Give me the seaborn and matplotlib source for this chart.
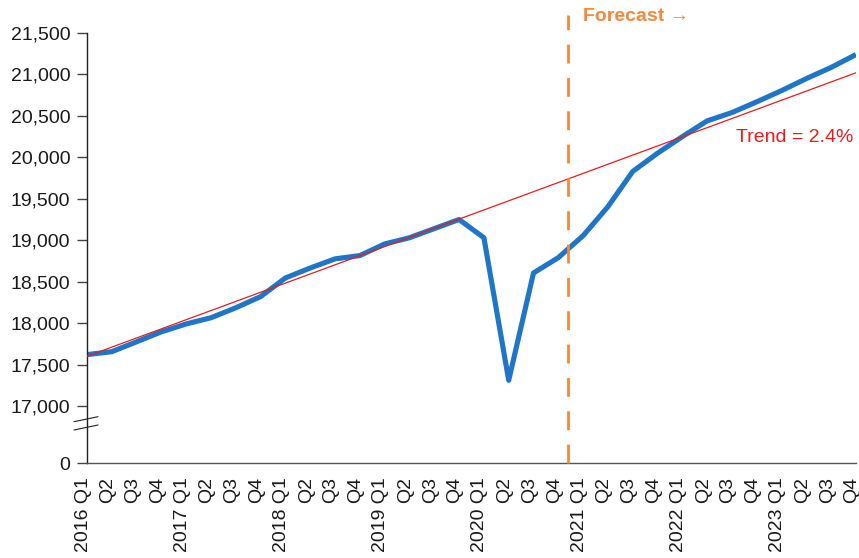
import numpy as np
import pandas as pd
import matplotlib
matplotlib.use("Agg")
import matplotlib.pyplot as plt
import matplotlib.transforms as mtransforms
import seaborn as sns

# Quarterly output level, 2016 Q1 .. 2023 Q4 (forecast from 2021 Q1)
years = [2016, 2017, 2018, 2019, 2020, 2021, 2022, 2023]
quarters = ["Q1", "Q2", "Q3", "Q4"]
values = [
    17620, 17655, 17775, 17895, 17990, 18065, 18185, 18320,
    18545, 18665, 18775, 18815, 18955, 19030, 19140, 19250,
    19030, 17310, 18605, 18790, 19055, 19405, 19830, 20050,
    20250, 20440, 20540, 20670, 20805, 20950, 21085, 21240,
]
trend_start = 17600
trend_end = 21020
trend_label = "Trend = 2.4%"
forecast_start = 19.4  # between 2020 Q4 and 2021 Q1

y_ticks = [17000, 17500, 18000, 18500, 19000, 19500, 20000, 20500, 21000, 21500]

tick_labels = []
for y in years:
    for q in quarters:
        tick_labels.append(f"{y} {q}" if q == "Q1" else q)

idx = np.arange(len(values))
df = pd.DataFrame({"t": idx, "value": values})
trend_df = pd.DataFrame({"t": [idx[0], idx[-1]], "value": [trend_start, trend_end]})

sns.set_theme(style="white")
plt.rcParams["font.family"] = ["Liberation Sans", "DejaVu Sans"]

W, H = 859, 558
FS = 14
fig = plt.figure(figsize=(W / 100, H / 100), dpi=100)
ax = fig.add_axes([87 / W, (H - 463) / H, (856 - 87) / W, (463 - 5) / H])

# broken axis: "0" sits a short gap below 17,000
u = 500 / 41.44
zero_pos = 17000 - 57 * u
top_val = 21500 + 28 * u

blue = "#1f75c8"
red = "#ea1c1c"
orange = "#f5883a"

sns.lineplot(data=trend_df, x="t", y="value", color=red, lw=0.9, ax=ax, zorder=3)
sns.lineplot(data=df, x="t", y="value", color=blue, lw=3.7, ax=ax, zorder=2,
             solid_joinstyle="round", solid_capstyle="butt")

ax.plot([forecast_start, forecast_start], [zero_pos, 21500 + 18 * u],
        color=orange, lw=2.0, linestyle=(0, (6.8, 5.2)), zorder=4, clip_on=False)

ax.text(20.0, 21500 + 17 * u, "Forecast \u2192", color=orange,
        fontsize=FS, fontweight="bold", ha="left", va="center")
ax.text(30.9, 21500 - (137 - 33) * u, trend_label, color=red,
        fontsize=FS, ha="right", va="center")

ax.set_xlim(idx[0], idx[-1])
ax.set_ylim(zero_pos, top_val)
ax.set_xlabel("")
ax.set_ylabel("")

ax.set_yticks([zero_pos] + y_ticks)
ax.set_yticklabels(["0"] + [f"{v:,}" for v in y_ticks])
ax.set_xticks(idx)
ax.set_xticklabels(tick_labels, rotation=90, ha="center", va="top")

ax.tick_params(axis="y", which="major", direction="out", length=7, width=1,
               color="#444444", labelsize=FS, labelcolor="#1a1a1a", pad=5, left=True)
ax.tick_params(axis="x", length=0, labelsize=FS, labelcolor="#1a1a1a", pad=10)

# quarter labels sit a few pixels left of their points
shift = mtransforms.ScaledTranslation(-4 / 100, 0, fig.dpi_scale_trans)
for lab in ax.get_xticklabels():
    lab.set_transform(lab.get_transform() + shift)

for s in ["top", "right"]:
    ax.spines[s].set_visible(False)
ax.spines["left"].set_bounds(zero_pos, 21500)
ax.spines["left"].set_color("#222222")
ax.spines["left"].set_linewidth(1.0)
ax.spines["bottom"].set_color("#555555")
ax.spines["bottom"].set_linewidth(1.0)

# axis break marks
for dy in (0, 8.3):
    y0 = 17000 - (421.7 + dy - 406) * u
    y1 = 17000 - (416.7 + dy - 406) * u
    ax.plot([-13 / 24.8, 11 / 24.8], [y0, y1], color="#222222", lw=0.8, clip_on=False)

ax.grid(False)
fig.savefig("out.png", dpi=100)
